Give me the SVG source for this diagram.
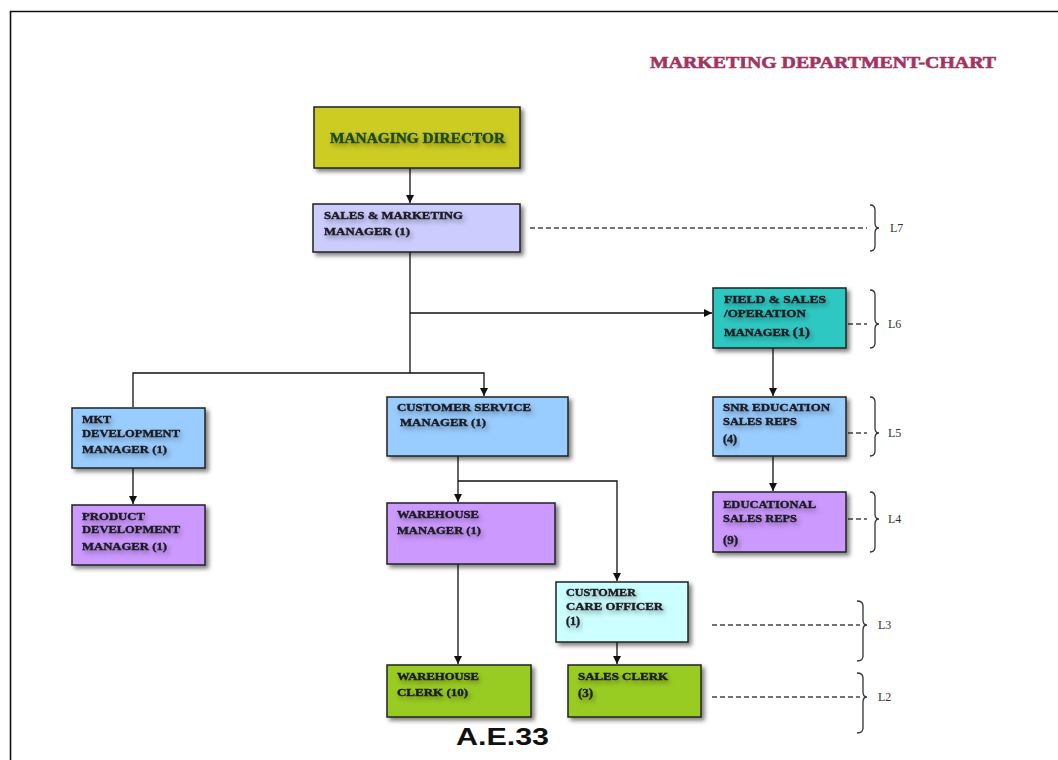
<svg xmlns="http://www.w3.org/2000/svg" width="1058" height="760" viewBox="0 0 1058 760">
<style>
.box{stroke:#222;stroke-width:1.5;filter:url(#sh)}
.t{font-family:"Liberation Serif",serif;font-weight:bold;font-size:11px;fill:#1b1b22;stroke:#1b1b22;stroke-width:0.4;filter:url(#ts)}
.big{font-size:13px}
.ln{stroke:#111;stroke-width:1.3;fill:none}
.dash{stroke:#444;stroke-width:1.3;stroke-dasharray:5 3;fill:none}
.br{stroke:#333;stroke-width:1.3;fill:none}
.lv{font-family:"Liberation Serif",serif;font-size:12px;fill:#333}
</style>
<defs>
<filter id="sh" x="-20%" y="-20%" width="150%" height="160%">
<feDropShadow dx="3" dy="3" stdDeviation="2" flood-color="#000" flood-opacity="0.5"/>
</filter>
<filter id="ts" x="-10%" y="-50%" width="130%" height="220%">
<feDropShadow dx="2" dy="3" stdDeviation="2.5" flood-color="#000" flood-opacity="0.35"/>
</filter>
<marker id="ar" viewBox="0 0 10 10" refX="10" refY="5" markerWidth="8" markerHeight="8" orient="auto" markerUnits="userSpaceOnUse">
<path d="M0,0 L10,5 L0,10 z" fill="#111"/>
</marker>
</defs>
<rect width="1058" height="760" fill="#fff"/>
<path d="M10.5,760 V11.5 H1058" stroke="#111" stroke-width="1.6" fill="none"/>
<text x="650" y="68" font-family="Liberation Serif,serif" font-weight="bold" font-size="17" fill="#a3345f" stroke="#a3345f" stroke-width="0.6" textLength="346" lengthAdjust="spacingAndGlyphs">MARKETING DEPARTMENT-CHART</text>

<g id="connectors">
<line class="ln" x1="410" y1="168" x2="410" y2="203" marker-end="url(#ar)"/>
<line class="ln" x1="410" y1="252" x2="410" y2="373"/>
<line class="ln" x1="410" y1="313" x2="712" y2="313" marker-end="url(#ar)"/>
<polyline class="ln" points="133,407 133,373 484,373 484,396" marker-end="url(#ar)"/>
<line class="ln" x1="133" y1="468" x2="133" y2="504" marker-end="url(#ar)"/>
<line class="ln" x1="458" y1="456" x2="458" y2="502" marker-end="url(#ar)"/>
<polyline class="ln" points="458,481 617,481 617,581" marker-end="url(#ar)"/>
<line class="ln" x1="458" y1="564" x2="458" y2="664" marker-end="url(#ar)"/>
<line class="ln" x1="617" y1="642" x2="617" y2="664" marker-end="url(#ar)"/>
<line class="ln" x1="773" y1="348" x2="773" y2="396" marker-end="url(#ar)"/>
<line class="ln" x1="773" y1="456" x2="773" y2="491" marker-end="url(#ar)"/>
<line class="dash" x1="530" y1="228" x2="867" y2="228"/>
<line class="dash" x1="848" y1="324" x2="867" y2="324"/>
<line class="dash" x1="848" y1="433" x2="867" y2="433"/>
<line class="dash" x1="848" y1="519" x2="867" y2="519"/>
<line class="dash" x1="712" y1="625" x2="860" y2="625"/>
<line class="dash" x1="712" y1="697" x2="860" y2="697"/>
</g>

<g id="levels">
<path class="br" d="M870,205 q5,0 5,5 v13 q0,5 4,5 q-4,0 -4,5 v13 q0,5 -5,5"/>
<text class="lv" x="890" y="232">L7</text>
<path class="br" d="M870,290 q5,0 5,5 v24 q0,5 4,5 q-4,0 -4,5 v14 q0,5 -5,5"/>
<text class="lv" x="888" y="328">L6</text>
<path class="br" d="M870,397 q5,0 5,5 v26 q0,5 4,5 q-4,0 -4,5 v13 q0,5 -5,5"/>
<text class="lv" x="888" y="437">L5</text>
<path class="br" d="M870,492 q5,0 5,5 v17 q0,5 4,5 q-4,0 -4,5 v23 q0,5 -5,5"/>
<text class="lv" x="888" y="523">L4</text>
<path class="br" d="M857,601 q6,0 6,5 v14 q0,5 4,5 q-4,0 -4,5 v26 q0,5 -6,5"/>
<text class="lv" x="878" y="629">L3</text>
<path class="br" d="M857,673 q6,0 6,5 v14 q0,5 4,5 q-4,0 -4,5 v26 q0,5 -6,5"/>
<text class="lv" x="878" y="701">L2</text>
</g>

<g id="managing-director">
<rect class="box" x="314" y="107" width="206" height="61" fill="#cccc22"/>
<text class="t" x="330" y="143" style="font-size:14px;fill:#1c4a1c;stroke:#1c4a1c" textLength="175" lengthAdjust="spacingAndGlyphs">MANAGING DIRECTOR</text>
</g>
<g id="sales-marketing-manager">
<rect class="box" x="313" y="204" width="207" height="48" fill="#ccccff"/>
<text class="t" x="324" y="219" textLength="139" lengthAdjust="spacingAndGlyphs">SALES &amp; MARKETING</text>
<text class="t" x="324" y="235" textLength="86" lengthAdjust="spacingAndGlyphs">MANAGER (1)</text>
</g>
<g id="field-sales-operation-manager">
<rect class="box" x="713" y="288" width="133" height="60" fill="#2ec8c2"/>
<text class="t" x="724" y="303" textLength="102" lengthAdjust="spacingAndGlyphs">FIELD  &amp; SALES</text>
<text class="t" x="724" y="317" textLength="82" lengthAdjust="spacingAndGlyphs">/OPERATION</text>
<text class="t" x="724" y="336" textLength="86" lengthAdjust="spacingAndGlyphs">MANAGER <tspan class="big">(1)</tspan></text>
</g>
<g id="snr-education-sales-reps">
<rect class="box" x="713" y="397" width="133" height="59" fill="#99ccff"/>
<text class="t" x="723" y="411" textLength="107" lengthAdjust="spacingAndGlyphs">SNR EDUCATION</text>
<text class="t" x="723" y="425" textLength="74" lengthAdjust="spacingAndGlyphs">SALES REPS</text>
<text class="t" x="723" y="443" style="font-size:12px">(4)</text>
</g>
<g id="educational-sales-reps">
<rect class="box" x="713" y="492" width="133" height="60" fill="#cc99ff"/>
<text class="t" x="723" y="508" textLength="93" lengthAdjust="spacingAndGlyphs">EDUCATIONAL</text>
<text class="t" x="723" y="522" textLength="74" lengthAdjust="spacingAndGlyphs">SALES REPS</text>
<text class="t big" x="723" y="544">(9)</text>
</g>
<g id="mkt-development-manager">
<rect class="box" x="72" y="408" width="133" height="60" fill="#99ccff"/>
<text class="t" x="82" y="423" textLength="29" lengthAdjust="spacingAndGlyphs">MKT</text>
<text class="t" x="82" y="437" textLength="98" lengthAdjust="spacingAndGlyphs">DEVELOPMENT</text>
<text class="t" x="82" y="453" textLength="85" lengthAdjust="spacingAndGlyphs">MANAGER (1)</text>
</g>
<g id="product-development-manager">
<rect class="box" x="72" y="505" width="133" height="60" fill="#cc99ff"/>
<text class="t" x="82" y="520" textLength="63" lengthAdjust="spacingAndGlyphs">PRODUCT</text>
<text class="t" x="82" y="533" textLength="98" lengthAdjust="spacingAndGlyphs">DEVELOPMENT</text>
<text class="t" x="82" y="550" textLength="85" lengthAdjust="spacingAndGlyphs">MANAGER (1)</text>
</g>
<g id="customer-service-manager">
<rect class="box" x="387" y="397" width="181" height="59" fill="#99ccff"/>
<text class="t" x="397" y="411" textLength="134" lengthAdjust="spacingAndGlyphs">CUSTOMER SERVICE</text>
<text class="t" x="400" y="426" textLength="86" lengthAdjust="spacingAndGlyphs">MANAGER (1)</text>
</g>
<g id="warehouse-manager">
<rect class="box" x="387" y="503" width="168" height="61" fill="#cc99ff"/>
<text class="t" x="397" y="518" textLength="82" lengthAdjust="spacingAndGlyphs">WAREHOUSE</text>
<text class="t" x="397" y="534" textLength="84" lengthAdjust="spacingAndGlyphs">MANAGER (1)</text>
</g>
<g id="customer-care-officer">
<rect class="box" x="556" y="582" width="132" height="60" fill="#ccffff"/>
<text class="t" x="566" y="596" textLength="70" lengthAdjust="spacingAndGlyphs">CUSTOMER</text>
<text class="t" x="566" y="610" textLength="97" lengthAdjust="spacingAndGlyphs">CARE OFFICER</text>
<text class="t" x="566" y="625" style="font-size:12px">(1)</text>
</g>
<g id="warehouse-clerk">
<rect class="box" x="387" y="665" width="144" height="52" fill="#99cc22"/>
<text class="t" x="397" y="680" textLength="82" lengthAdjust="spacingAndGlyphs">WAREHOUSE</text>
<text class="t" x="397" y="696" textLength="71" lengthAdjust="spacingAndGlyphs">CLERK (10)</text>
</g>
<g id="sales-clerk">
<rect class="box" x="568" y="665" width="133" height="52" fill="#99cc22"/>
<text class="t" x="578" y="680" textLength="90" lengthAdjust="spacingAndGlyphs">SALES CLERK</text>
<text class="t big" x="578" y="697">(3)</text>
</g>
<text x="456" y="745" font-family="Liberation Sans,sans-serif" font-weight="bold" font-size="24" fill="#111" textLength="93" lengthAdjust="spacingAndGlyphs">A.E.33</text>
</svg>
